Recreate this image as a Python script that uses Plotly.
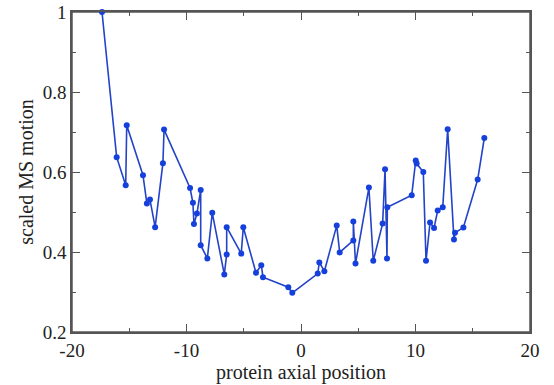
import plotly.graph_objects as go

# data
axial_position = [
    -17.38, -16.10, -15.31, -15.22, -13.80, -13.46, -13.19, -12.74, -12.06, -11.96,
    -9.69, -9.44, -9.35, -9.09, -8.76, -8.76, -8.18, -7.75, -6.70, -6.49,
    -6.49, -5.22, -5.04, -3.93, -3.47, -3.32, -1.11, -0.76, 1.46, 1.60,
    2.04, 3.12, 3.38, 4.57, 4.57, 4.76, 5.93, 6.31, 7.13, 7.34,
    7.51, 7.54, 9.67, 10.02, 10.10, 10.68, 10.92, 11.27, 11.62, 11.94,
    12.38, 12.81, 13.36, 13.45, 14.18, 15.43, 16.01,
]
scaled_ms_motion = [
    1.000, 0.637, 0.567, 0.717, 0.592, 0.521, 0.531, 0.462, 0.622, 0.706,
    0.560, 0.523, 0.470, 0.496, 0.555, 0.417, 0.384, 0.498, 0.344, 0.394,
    0.462, 0.396, 0.462, 0.348, 0.367, 0.337, 0.312, 0.298, 0.346, 0.374,
    0.352, 0.466, 0.399, 0.429, 0.476, 0.371, 0.561, 0.378, 0.471, 0.607,
    0.384, 0.512, 0.542, 0.629, 0.621, 0.600, 0.378, 0.474, 0.460, 0.504,
    0.512, 0.707, 0.431, 0.448, 0.461, 0.581, 0.685,
]
x_tick_vals = [-20, -10, 0, 10, 20]
x_tick_text = ["-20", "-10", "0", "10", "20"]
y_tick_vals = [0.2, 0.4, 0.6, 0.8, 1.0]
y_tick_text = ["0.2", "0.4", "0.6", "0.8", "1"]
x_range = [-20, 20]
y_range = [0.2, 1.0]

font_family = "Liberation Serif"
axis_color = "#555555"
text_color = "#222222"

fig = go.Figure()
fig.add_trace(go.Scatter(
    x=axial_position, y=scaled_ms_motion, mode="lines+markers",
    line=dict(color="#2343c8", width=1.6),
    marker=dict(color="#1640dc", size=6),
    showlegend=False, hoverinfo="skip", cliponaxis=False,
))

tick_common = dict(ticks="inside", ticklen=8, tickwidth=1.3, tickcolor=axis_color)
minor_x = dict(dtick=5, tick0=0, ticks="inside", ticklen=4, tickwidth=1.3, tickcolor=axis_color)
minor_y = dict(dtick=0.1, tick0=0, ticks="inside", ticklen=4, tickwidth=1.3, tickcolor=axis_color)
line_common = dict(showgrid=False, zeroline=False, showline=True, linecolor=axis_color,
                   linewidth=1.5, mirror="allticks", automargin=False)

fig.update_layout(
    width=554, height=385,
    margin=dict(l=72, r=24, t=12, b=53),
    plot_bgcolor="white", paper_bgcolor="white",
    xaxis=dict(
        range=x_range, tickvals=x_tick_vals, ticktext=x_tick_text, minor=minor_x,
        tickfont=dict(family=font_family, size=19, color=text_color),
        title=dict(text="protein axial position", font=dict(family=font_family, size=20, color=text_color), standoff=2),
        **tick_common, **line_common,
    ),
    yaxis=dict(
        range=y_range, tickvals=y_tick_vals, ticktext=y_tick_text, minor=minor_y,
        tickfont=dict(family=font_family, size=19, color=text_color),
        title=dict(text="scaled MS motion", font=dict(family=font_family, size=20, color=text_color), standoff=4),
        **tick_common, **line_common,
    ),
)
# plot frame
fig.add_shape(type="rect", xref="paper", yref="paper", x0=0, y0=0, x1=1, y1=1,
              line=dict(color=axis_color, width=1.5), layer="below")
fig.write_html("out.html", config={"displayModeBar": False},
               post_script="document.body.style.margin='0';")
